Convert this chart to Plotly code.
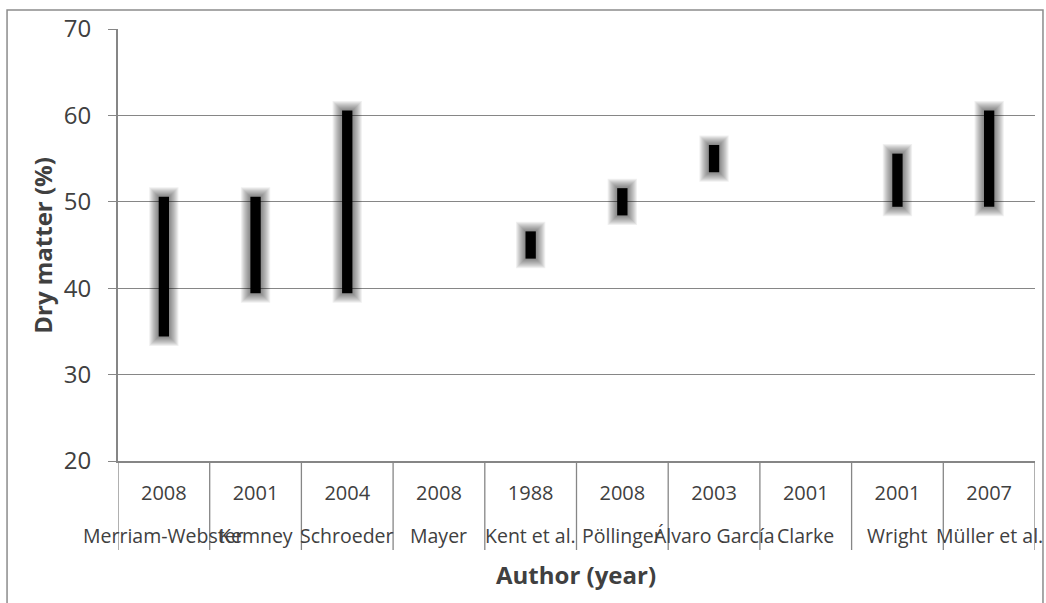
import plotly.graph_objects as go

authors = ["Merriam-Webster", "Kemney", "Schroeder", "Mayer", "Kent et al.",
           "Pöllinger", "Álvaro García", "Clarke", "Wright", "Müller et al."]
years = ["2008", "2001", "2004", "2008", "1988", "2008", "2003", "2001", "2001", "2007"]
low = [35, 40, 40, None, 44, 49, 54, None, 50, 50]
high = [50, 50, 60, None, 46, 51, 56, None, 55, 60]

span = [None if (l is None or h is None) else h - l for l, h in zip(low, high)]

fig = go.Figure()
# glow layers
for w in [29, 27, 25, 23, 21, 19, 17, 15, 13]:
    fig.add_trace(go.Bar(x=authors, y=span, base=low, width=0.004,
                         marker=dict(color="rgba(0,0,0,0.06)",
                                     line=dict(color="rgba(0,0,0,0.06)", width=w)),
                         hoverinfo="skip", showlegend=False))
fig.add_trace(go.Bar(x=authors, y=span, base=low, width=0.004,
                     marker=dict(color="black", line=dict(color="black", width=10)),
                     showlegend=False))

grey = "#868686"
txt = "#404040"

# category dividers below the x axis
shapes = [dict(type="line", xref="x", yref="paper", x0=i - 0.5, x1=i - 0.5,
               y0=0, y1=-0.206, line=dict(color=grey, width=1.3))
          for i in range(len(authors) + 1)]
shapes.append(dict(type="rect", xref="paper", yref="paper", x0=-0.121, x1=1.0087,
                   y0=-0.34, y1=1.044, line=dict(color="#8c8c8c", width=1.5),
                   fillcolor="rgba(0,0,0,0)", layer="below"))

annotations = [dict(text=a, x=a, xref="x", y=-0.1713, yref="paper", showarrow=False,
                    xanchor="center", yanchor="middle", font=dict(size=19.5, color=txt))
               for a in authors]
annotations += [
    dict(text="<b>Dry matter (%)</b>", x=-0.0825, y=0.499, xref="paper", yref="paper",
         xanchor="center", yanchor="middle",
         textangle=-90, showarrow=False, font=dict(size=24, color=txt)),
    dict(text="<b>Author (year)</b>", x=0.499, y=-0.262, xref="paper", yref="paper",
         xanchor="center", yanchor="middle",
         showarrow=False, font=dict(size=24, color=txt)),
]

fig.update_layout(
    width=1046, height=603,
    margin=dict(l=118, r=11, t=29, b=142, autoexpand=False),
    paper_bgcolor="white", plot_bgcolor="white",
    barmode="overlay",
    font=dict(family="Open Sans", color=txt),
    showlegend=False,
    xaxis=dict(type="category", showline=True, linecolor=grey, linewidth=2,
               showgrid=False, ticks="", tickangle=0, automargin=False,
               tickmode="array", tickvals=authors, ticktext=years,
               tickfont=dict(size=20, color=txt), ticklabelstandoff=13,
               range=[-0.5, len(authors) - 0.5]),
    yaxis=dict(range=[20, 70], dtick=10, showline=True, linecolor=grey, linewidth=2,
               automargin=False,
               showgrid=True, gridcolor=grey, gridwidth=1.3,
               ticks="outside", ticklen=8, tickcolor=grey, tickwidth=1.3,
               tickfont=dict(size=24, color=txt), ticklabelstandoff=12),
    annotations=annotations,
    shapes=shapes,
)

fig.write_html("out.html", config={"displayModeBar": False},
               post_script="document.body.style.margin='0';")
